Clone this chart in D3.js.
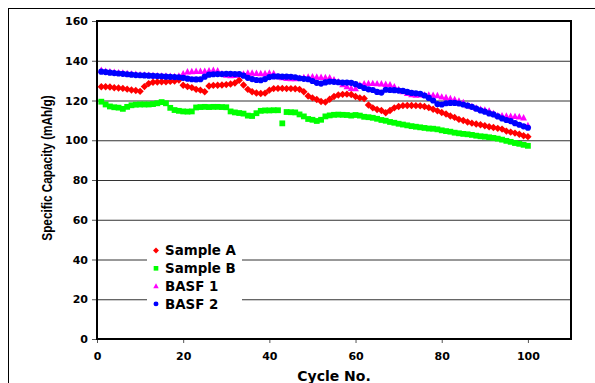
<!DOCTYPE html>
<html>
	<head>
		<meta charset="utf-8">
		<style type="text/css">
			body { margin: 0; background: white; }
			text { font-family: "DejaVu Sans", sans-serif; font-weight: bold; fill: black; }
		</style>
		<title>Specific Capacity</title>
	</head>
	<body>
		<script src="https://cdn.jsdelivr.net/npm/d3@7"></script>
		<script>

// data ////////////////////////////////////////////////////////////////////

var cycles = d3.range(1, 101);

var sampleA = [
	126.9, 126.9, 126.8, 126.4, 126.3, 126.1, 125.7, 125.3, 125.0, 124.6,
	127.0, 128.5, 129.2, 129.3, 129.4, 129.4, 129.6, 129.8, 130.3, 127.7,
	127.0, 126.5, 125.6, 125.2, 124.4, 127.3, 127.6, 127.7, 127.8, 128.0,
	128.3, 128.8, 130.2, 127.8, 125.6, 124.4, 123.8, 123.5, 123.7, 125.2,
	126.0, 126.1, 126.1, 126.0, 126.0, 125.9, 125.6, 124.4, 122.3, 121.3,
	120.5, 119.5, 119.2, 120.6, 122.0, 122.8, 123.1, 123.2, 123.0, 122.0,
	121.3, 121.0, 117.7, 116.3, 115.5, 115.0, 113.8, 115.0, 116.3, 117.0,
	117.4, 117.5, 117.5, 117.4, 117.3, 117.0, 116.4, 115.6, 114.8, 114.0,
	113.2, 112.2, 111.5, 110.5, 109.9, 109.2, 108.6, 108.2, 107.8, 107.3,
	106.8, 106.4, 106.0, 105.6, 104.6, 104.1, 103.6, 103.0, 102.3, 101.8
];

var sampleB = [
	119.4, 118.0, 117.0, 116.6, 116.4, 115.8, 116.8, 117.6, 117.9, 118.0,
	118.0, 118.0, 118.2, 118.6, 119.2, 118.6, 116.3, 115.2, 114.8, 114.5,
	114.4, 114.5, 116.5, 116.7, 116.8, 116.7, 116.8, 116.8, 116.7, 116.6,
	114.5, 114.0, 113.7, 113.4, 112.4, 112.2, 113.6, 114.8, 115.0, 115.0,
	115.1, 115.1, 108.5, 114.2, 114.1, 114.0, 113.0, 112.0, 110.7, 110.3,
	109.7, 110.3, 112.0, 112.5, 112.8, 112.9, 112.8, 112.7, 112.4, 112.7,
	112.4, 111.8, 111.6, 111.3, 110.8, 110.2, 109.8, 109.2, 108.8, 108.3,
	107.9, 107.5, 107.1, 106.8, 106.5, 106.2, 105.9, 105.8, 105.5, 105.0,
	104.6, 104.3, 103.8, 103.5, 103.2, 103.0, 102.7, 102.3, 102.0, 101.8,
	101.5, 101.2, 100.8, 100.3, 99.7, 99.2, 98.6, 98.2, 97.7, 97.2
];

var basf1 = [
	135.2, 134.8, 134.5, 134.2, 134.0, 133.8, 133.6, 133.4, 133.2, 133.0,
	132.9, 132.7, 132.6, 132.5, 132.4, 132.3, 132.2, 132.1, 132.3, 133.5,
	134.5, 134.6, 134.7, 134.7, 134.8, 135.0, 135.2, 135.0, 133.5, 132.8,
	132.6, 132.7, 133.0, 133.4, 133.8, 133.8, 133.7, 133.6, 133.6, 133.8,
	133.6, 132.0, 131.5, 131.2, 131.0, 131.0, 131.2, 131.6, 131.8, 132.0,
	131.8, 131.7, 131.6, 131.5, 130.5, 129.5, 128.0, 127.0, 126.2, 126.0,
	127.8, 128.5, 128.6, 128.6, 128.5, 128.4, 128.2, 128.0, 127.0, 125.5,
	124.5, 123.6, 123.0, 122.8, 122.9, 122.8, 122.8, 122.7, 122.5, 121.8,
	121.5, 121.0, 120.5, 119.8, 119.0, 117.5, 117.0, 116.2, 115.6, 115.3,
	114.8, 113.5, 112.4, 112.3, 112.2, 112.1, 112.0, 111.8, 111.3, 107.5
];

var basf2 = [
	134.5, 134.3, 134.0, 133.8, 133.6, 133.4, 133.2, 133.0, 132.8, 132.7,
	132.6, 132.5, 132.4, 132.3, 132.2, 132.0, 131.9, 131.8, 131.7, 131.4,
	131.0, 130.7, 130.6, 130.7, 132.0, 133.0, 133.2, 133.3, 133.3, 133.4,
	133.4, 133.3, 133.3, 132.5, 131.4, 130.8, 130.3, 130.2, 130.8, 131.8,
	132.1, 132.1, 132.0, 132.0, 131.9, 131.7, 131.2, 130.9, 130.7, 129.8,
	128.9, 128.5, 129.1, 129.5, 129.4, 129.2, 129.0, 129.0, 128.9, 128.2,
	127.3, 126.3, 125.6, 125.3, 124.3, 124.0, 125.4, 125.3, 125.2, 125.0,
	124.8, 124.3, 123.8, 123.6, 123.4, 122.5, 121.3, 120.0, 118.2, 118.0,
	118.6, 118.8, 118.8, 118.5, 118.0, 117.4, 116.8, 115.9, 115.0, 114.4,
	113.5, 113.0, 112.0, 111.0, 110.2, 109.6, 108.6, 107.8, 107.0, 106.3
];

var seriesNames  = ['Sample A', 'Sample B', 'BASF 1', 'BASF 2'];
var seriesValues = [sampleA, sampleB, basf1, basf2];
var seriesColors = ['#ff0000', '#00ff00', '#ff00ff', '#0000ff'];
var seriesShapes = ['diamond', 'square', 'triangle', 'circle'];

var xTicks = [0, 20, 40, 60, 80, 100];
var yTicks = [0, 20, 40, 60, 80, 100, 120, 140, 160];


// layout //////////////////////////////////////////////////////////////////

var W = 595, H = 383;
var margin = {top: 21, right: 24, bottom: 44, left: 97};
var width  = W - margin.left - margin.right,
    height = H - margin.top - margin.bottom;

var svg = d3.select('body').append('svg')
	.attr('width', W)
	.attr('height', H);

// outer chart border
svg.append('rect')
	.attr('x', 8.5).attr('y', 8.5)
	.attr('width', W).attr('height', H)
	.attr('fill', 'white')
	.attr('stroke', 'black');

var plot = svg.append('g')
	.attr('transform', `translate(${margin.left},${margin.top})`);

var x = d3.scaleLinear().domain([0, 110]).range([0, width]);
var y = d3.scaleLinear().domain([0, 160]).range([height, 0]);


// grid & axes /////////////////////////////////////////////////////////////

plot.append('g')
	.call(d3.axisLeft(y).tickValues(yTicks.filter(d => d > 0 && d < 160))
		.tickSize(-width).tickFormat(''))
	.call(g => g.select('.domain').remove())
	.call(g => g.selectAll('.tick line')
		.attr('stroke', '#333')
		.attr('stroke-width', 1));

plot.append('g')
	.call(d3.axisLeft(y).tickValues(yTicks).tickSize(5).tickPadding(4))
	.call(g => g.select('.domain').remove())
	.call(g => g.selectAll('.tick line').attr('stroke', '#555'))
	.call(g => g.selectAll('.tick text')
		.style('font-size', '11px')
		.style('font-family', '"DejaVu Sans", sans-serif')
		.style('font-weight', 'bold'));

plot.append('g')
	.attr('transform', `translate(0,${height})`)
	.call(d3.axisBottom(x).tickValues(xTicks).tickSize(4).tickPadding(9))
	.call(g => g.select('.domain').remove())
	.call(g => g.selectAll('.tick line').attr('stroke', '#555'))
	.call(g => g.selectAll('.tick text')
		.style('font-size', '11px')
		.style('font-family', '"DejaVu Sans", sans-serif')
		.style('font-weight', 'bold'));

// plot frame
plot.append('rect')
	.attr('width', width).attr('height', height)
	.attr('fill', 'none')
	.attr('stroke', 'black')
	.attr('stroke-width', 2);

plot.append('text')
	.attr('x', width / 2).attr('y', height + 42)
	.attr('text-anchor', 'middle')
	.style('font-size', '14px')
	.text('Cycle No.');

// y title: the source picture is stretched sideways, so widen the glyphs
svg.append('text')
	.attr('transform', `translate(52,168) rotate(-90) scale(1,1.3)`)
	.attr('text-anchor', 'middle')
	.style('font-family', '"Liberation Sans", Arial, sans-serif')
	.style('font-size', '11.8px')
	.text('Specific Capacity (mAh/g)');


// markers /////////////////////////////////////////////////////////////////

function marker(shape) {
	if (shape == 'diamond')  return 'M0,-3.7L3.7,0L0,3.7L-3.7,0Z';
	if (shape == 'square')   return 'M-2.9,-2.9H2.9V2.9H-2.9Z';
	if (shape == 'triangle') return 'M0,-3.7L3.4,2.7H-3.4Z';
	return d3.symbol(d3.symbolCircle, 30)();
}

seriesValues.forEach((values, i) => {
	plot.append('g')
		.selectAll('path')
		.data(cycles.map((c, j) => [c, values[j]]))
		.join('path')
			.attr('transform', d => `translate(${x(d[0])},${y(d[1])})`)
			.attr('d', marker(seriesShapes[i]))
			.attr('fill', seriesColors[i]);
});


// legend //////////////////////////////////////////////////////////////////

var legend = svg.append('g')
	.attr('transform', 'translate(147,240)');

legend.append('rect')
	.attr('width', 95).attr('height', 73)
	.attr('fill', 'white');

legend.selectAll('.item')
	.data(seriesNames)
	.join('g')
		.attr('class', 'item')
		.attr('transform', (d, i) => `translate(9,${10.5 + i * 17.8})`)
		.call(g => {
			g.append('path')
				.attr('d', (d, i) => marker(seriesShapes[i]))
				.attr('transform', 'scale(0.8)')
				.attr('fill', (d, i) => seriesColors[i]);
			g.append('text')
				.attr('x', 9)
				.attr('dy', '0.36em')
				.style('font-size', '13.4px')
				.text(d => d);
		});

		</script>
	</body>
</html>
